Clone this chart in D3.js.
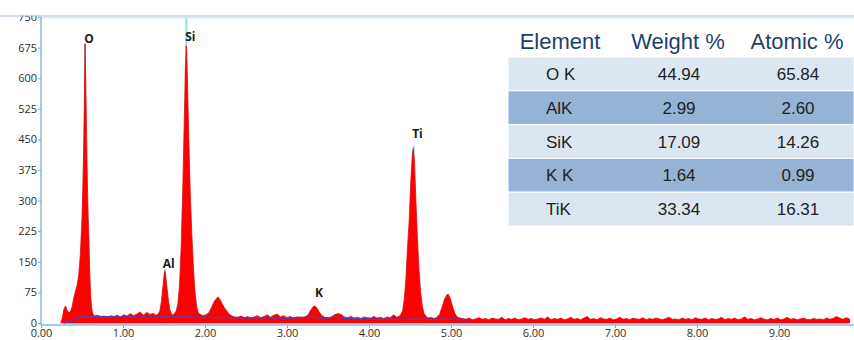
<!DOCTYPE html>
<html>
<head>
<meta charset="utf-8">
<script src="https://cdn.jsdelivr.net/npm/d3@7"></script>
<style>
  html, body { margin: 0; padding: 0; background: #ffffff; }
  svg { display: block; }
</style>
</head>
<body>
<svg id="chart" width="854" height="340"></svg>
<script>
// EDS spectrum: counts vs energy (keV)
const spectrumPoints = [
  [0.24, 0], [0.26, 12], [0.28, 34], [0.30, 42], [0.32, 30], [0.34, 26], [0.36, 28], [0.38, 40],
  [0.40, 62], [0.42, 78], [0.44, 92], [0.46, 118], [0.48, 168], [0.50, 258], [0.51, 330], [0.52, 430],
  [0.53, 560], [0.537, 684], [0.545, 610], [0.555, 470], [0.565, 350], [0.575, 262], [0.585, 205],
  [0.595, 125], [0.605, 70], [0.615, 40], [0.63, 24], [0.65, 17],
  [0.69, 19], [0.73, 15], [0.77, 17], [0.81, 14], [0.85, 18], [0.89, 16], [0.93, 19], [0.97, 15],
  [1.01, 20], [1.05, 17], [1.09, 23], [1.13, 18], [1.17, 22], [1.21, 27], [1.25, 19], [1.29, 26],
  [1.33, 21], [1.37, 24], [1.40, 19],
  [1.43, 22], [1.45, 30], [1.47, 55], [1.49, 95], [1.50, 115], [1.51, 128], [1.52, 118], [1.53, 98],
  [1.55, 62], [1.57, 34], [1.59, 22], [1.61, 19],
  [1.63, 24], [1.65, 30], [1.67, 48], [1.69, 95], [1.71, 190], [1.73, 340], [1.75, 520], [1.76, 620],
  [1.772, 679], [1.78, 640], [1.79, 560], [1.80, 470], [1.82, 320], [1.84, 215], [1.86, 130],
  [1.88, 72], [1.90, 38], [1.92, 24], [1.95, 20], [1.98, 18],
  [2.02, 21], [2.05, 26], [2.08, 38], [2.11, 52], [2.14, 60], [2.16, 64], [2.18, 58], [2.21, 47],
  [2.24, 36], [2.27, 28], [2.30, 21], [2.33, 17],
  [2.36, 15], [2.40, 14], [2.44, 17], [2.48, 13], [2.52, 16], [2.56, 12], [2.60, 15], [2.64, 18],
  [2.68, 13], [2.72, 16], [2.76, 20], [2.80, 14], [2.84, 19], [2.88, 22], [2.92, 15], [2.96, 18],
  [3.00, 13], [3.04, 16], [3.08, 12], [3.12, 15], [3.16, 14], [3.20, 13],
  [3.23, 16], [3.26, 21], [3.29, 32], [3.32, 40], [3.34, 42], [3.36, 38], [3.39, 28], [3.42, 19],
  [3.46, 14], [3.50, 12],
  [3.54, 15], [3.58, 20], [3.62, 23], [3.66, 21], [3.70, 15], [3.74, 13], [3.78, 16], [3.82, 12],
  [3.86, 14], [3.90, 11], [3.94, 15], [3.98, 13], [4.02, 12], [4.06, 16], [4.10, 12], [4.14, 14],
  [4.18, 11], [4.22, 15], [4.26, 13], [4.30, 20], [4.34, 14],
  [4.38, 18], [4.41, 30], [4.43, 58], [4.45, 108], [4.47, 185], [4.49, 250], [4.51, 350], [4.53, 418],
  [4.542, 428], [4.555, 395], [4.57, 310], [4.59, 210], [4.61, 130], [4.63, 75], [4.65, 42],
  [4.67, 24], [4.70, 15],
  [4.73, 12], [4.76, 14], [4.79, 11],
  [4.82, 13], [4.86, 21], [4.89, 38], [4.92, 58], [4.95, 69], [4.965, 71], [4.99, 61], [5.02, 40],
  [5.05, 22], [5.08, 14], [5.11, 12]
];

// High-energy tail, sampled on a regular channel grid
const tailStartKeV = 5.14;
const tailStepKeV = 0.04;
const tailCounts = [
  11, 9, 12, 8, 10, 13, 9, 11, 8, 12, 10, 9, 14, 8, 11, 9, 12, 8, 10, 13,
  9, 11, 8, 10, 12, 9, 15, 8, 11, 9, 12, 8, 10, 14, 9, 11, 8, 12, 16, 9,
  11, 8, 13, 10, 9, 12, 8, 10, 14, 9, 11, 8, 12, 10, 9, 13, 8, 11, 9, 12,
  10, 8, 11, 14, 9, 10, 8, 12, 9, 11, 8, 13, 10, 9, 12, 8, 11, 9, 10, 14,
  8, 11, 9, 12, 8, 10, 15, 9, 11, 8, 10, 13, 9, 8, 11, 9, 12, 8, 10, 14,
  9, 11, 8, 10, 12, 9, 8, 11, 9, 10, 8, 12, 9, 11, 16, 12, 9, 13, 10
];

// Fitted background (bremsstrahlung) under the peaks
const backgroundPoints = [
  [0.28, 0], [0.34, 4], [0.40, 9], [0.46, 13], [0.55, 15], [0.70, 16], [1.0, 15], [1.5, 15],
  [2.0, 14], [2.5, 13], [3.0, 12], [3.3, 15], [3.42, 12], [3.6, 14], [3.72, 11], [4.0, 10],
  [4.5, 9], [5.0, 9], [5.2, 8]
];

// Element line markers: energy, marker height, label height (counts)
const peakElements = ["C", "O", "Al", "Si", "K", "Ti"];
const peakKeV      = [0.28, 0.537, 1.51, 1.772, 3.34, 4.542];
const markerCounts = [30, 686, 132, 770, 0, 434];
const labelCounts  = [null, 696, 145, 701, 74, 463];

// Axis ticks
const yTicks = [0, 75, 150, 225, 300, 375, 450, 525, 600, 675, 750];
const xTicks = [0, 1, 2, 3, 4, 5, 6, 7, 8, 9];

// Quantification table
const tableHeader   = ["Element", "Weight %", "Atomic %"];
const tableElements = ["O K", "AlK", "SiK", "K K", "TiK"];
const weightPct     = ["44.94", "2.99", "17.09", "1.64", "33.34"];
const atomicPct     = ["65.84", "2.60", "14.26", "0.99", "16.31"];

const svg = d3.select("#chart");
const W = 854, H = 340;
const plot = { left: 41, top: 17, bottom: 323 };

const x = d3.scaleLinear().domain([0, 10]).range([plot.left, plot.left + 820]);
const y = d3.scaleLinear().domain([0, 750]).range([plot.bottom, plot.top]);

svg.append("rect").attr("width", W).attr("height", H).attr("fill", "#ffffff");

const spectrum = spectrumPoints.concat(
  tailCounts.map((c, i) => [tailStartKeV + i * tailStepKeV, c])
);

// Quantification table
const tbl = svg.append("g");
const rowTop = 57, rowH = 33.8, tblLeft = 508;
tableElements.forEach((el, i) => {
  tbl.append("rect")
    .attr("x", tblLeft).attr("y", rowTop + i * rowH)
    .attr("width", W - tblLeft).attr("height", rowH)
    .attr("fill", i % 2 === 0 ? "#dce6f1" : "#95b3d7")
    .attr("stroke", "#ffffff").attr("stroke-width", 1);
});
const colX = [560, 678, 797];
tableHeader.forEach((h, j) => {
  tbl.append("text")
    .attr("x", colX[j]).attr("y", 49)
    .attr("text-anchor", "middle")
    .attr("font-family", "'Liberation Sans', Arial, sans-serif")
    .attr("font-size", 22)
    .attr("fill", "#1f3f6b")
    .text(h);
});
tableElements.forEach((el, i) => {
  const by = rowTop + i * rowH + rowH / 2 + 6;
  const cells = [el, weightPct[i], atomicPct[i]];
  cells.forEach((t, j) => {
    tbl.append("text")
      .attr("x", j === 0 ? 546 : colX[j] + 1)
      .attr("y", by)
      .attr("text-anchor", j === 0 ? "start" : "middle")
      .attr("font-family", "'Liberation Sans', Arial, sans-serif")
      .attr("font-size", 17)
      .attr("fill", "#222222")
      .text(t);
  });
});

// Clip for plot region
svg.append("defs").append("clipPath").attr("id", "plotClip")
  .append("rect").attr("x", plot.left).attr("y", plot.top)
  .attr("width", W - plot.left).attr("height", plot.bottom - plot.top + 1);

const pg = svg.append("g").attr("clip-path", "url(#plotClip)");

// Element marker lines
peakElements.forEach((el, i) => {
  if (markerCounts[i] <= 0) return;
  pg.append("line")
    .attr("x1", x(peakKeV[i])).attr("x2", x(peakKeV[i]))
    .attr("y1", y(0)).attr("y2", y(markerCounts[i]))
    .attr("stroke", "#7fe6ea").attr("stroke-width", 2);
});

// Spectrum area
const area = d3.area()
  .x(d => x(d[0]))
  .y0(y(0))
  .y1(d => y(d[1]))
  .curve(d3.curveLinear);
pg.append("path")
  .datum(spectrum)
  .attr("d", area)
  .attr("fill", "#ff0000")
  .attr("stroke", "#d81010")
  .attr("stroke-width", 0.8)
  .attr("stroke-linejoin", "round");

// Background fit
pg.append("path")
  .datum(backgroundPoints)
  .attr("d", d3.line().x(d => x(d[0])).y(d => y(d[1])).curve(d3.curveMonotoneX))
  .attr("fill", "none")
  .attr("stroke", "#5a3cb4")
  .attr("stroke-width", 1.5);

// Peak labels
peakElements.forEach((el, i) => {
  if (labelCounts[i] === null) return;
  svg.append("text")
    .attr("x", x(peakKeV[i]) + 4)
    .attr("y", y(labelCounts[i]))
    .attr("dy", "0.35em")
    .attr("text-anchor", "middle")
    .attr("font-family", "'Open Sans', 'DejaVu Sans', sans-serif")
    .attr("font-weight", "bold")
    .attr("font-size", 12)
    .attr("fill", "#1a1a1a")
    .text(el);
});

// Axes
const yAxis = d3.axisLeft(y).tickValues(yTicks).tickSize(3).tickPadding(1)
  .tickFormat(d3.format("d"));
const gy = svg.append("g").attr("transform", `translate(${plot.left},0)`).call(yAxis);
gy.select(".domain").remove();
gy.selectAll(".tick line").attr("stroke", "#7aa9d8");
gy.selectAll("text")
  .attr("font-family", "'Open Sans', 'DejaVu Sans', sans-serif")
  .attr("font-size", 11).attr("fill", "#2e2e2e");

const xAxis = d3.axisBottom(x).tickValues(xTicks).tickSize(3).tickPadding(2)
  .tickFormat(d3.format(".2f"));
const gx = svg.append("g").attr("transform", `translate(0,${plot.bottom + 2})`).call(xAxis);
gx.select(".domain").remove();
gx.selectAll(".tick line").attr("stroke", "#7aa9d8");
gx.selectAll("text")
  .attr("font-family", "'Open Sans', 'DejaVu Sans', sans-serif")
  .attr("font-size", 11).attr("fill", "#2e2e2e")
  .attr("y", 0).attr("dy", 0)
  .attr("transform", "translate(0,12)");

// Plot frame
svg.append("line").attr("x1", plot.left).attr("x2", plot.left)
  .attr("y1", plot.top).attr("y2", plot.bottom + 2)
  .attr("stroke", "#6ea4d8").attr("stroke-width", 1.2);
svg.append("line").attr("x1", plot.left).attr("x2", W)
  .attr("y1", plot.bottom + 2).attr("y2", plot.bottom + 2)
  .attr("stroke", "#86b8e6").attr("stroke-width", 1.5);

// Top edge of the panel
svg.append("rect").attr("x", 0).attr("y", 0).attr("width", W).attr("height", 15.5).attr("fill", "#ffffff");
svg.append("line").attr("x1", 0).attr("x2", W).attr("y1", 16).attr("y2", 16)
  .attr("stroke", "#a9bccf").attr("stroke-width", 1);
svg.append("line").attr("x1", plot.left).attr("x2", W).attr("y1", 18).attr("y2", 18)
  .attr("stroke", "#d2e0ee").attr("stroke-width", 1);
</script>
</body>
</html>
